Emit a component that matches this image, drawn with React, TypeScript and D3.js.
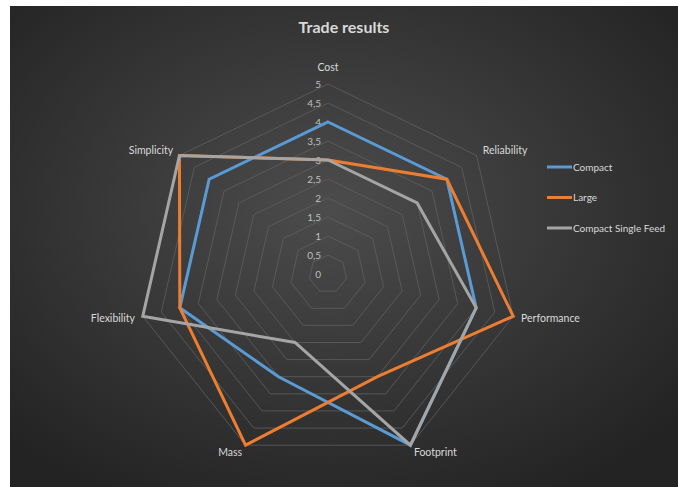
import React, { useEffect, useRef } from 'react';
import * as d3 from 'd3';

const axes = ['Cost', 'Reliability', 'Performance', 'Footprint', 'Mass', 'Flexibility', 'Simplicity'];
const compact = [4, 4, 4, 5, 3, 4, 4];
const large = [3, 4, 5, 3, 5, 4, 5];
const compactSingleFeed = [3, 3, 4, 5, 2, 5, 5];
const ticks = [0, 0.5, 1, 1.5, 2, 2.5, 3, 3.5, 4, 4.5, 5];
const tickLabels = ['0', '0,5', '1', '1,5', '2', '2,5', '3', '3,5', '4', '4,5', '5'];

const series = [
  { name: 'Compact', values: compact, color: '#5b9bd5' },
  { name: 'Large', values: large, color: '#ed7d31' },
  { name: 'Compact Single Feed', values: compactSingleFeed, color: '#a5a5a5' },
];

const App = () => {
  const svgRef = useRef<SVGSVGElement | null>(null);

  useEffect(() => {
    const width = 668;
    const height = 481;
    const svg = d3.select(svgRef.current);
    svg.selectAll('*').remove();

    const font = 'Lato, "Open Sans", sans-serif';

    // background gradient
    const defs = svg.append('defs');
    const grad = defs.append('radialGradient')
      .attr('id', 'bg')
      .attr('cx', '48%').attr('cy', '42%').attr('r', '68%');
    grad.append('stop').attr('offset', '0%').attr('stop-color', '#4c4c4c');
    grad.append('stop').attr('offset', '100%').attr('stop-color', '#232323');
    svg.append('rect').attr('width', width).attr('height', height).attr('fill', 'url(#bg)');

    svg.append('text')
      .attr('x', width / 2)
      .attr('y', 27)
      .attr('text-anchor', 'middle')
      .style('font-family', font)
      .style('font-weight', 'bold')
      .style('font-size', '16px')
      .attr('fill', '#d9d9d9')
      .text('Trade results');

    // center in svg coordinates (svg is at left 10, top 6)
    const cx = 318;
    const cy = 268;
    const R = 190;

    const r = d3.scaleLinear().domain([0, 5]).range([0, R]);
    const angle = d3.scaleLinear().domain([0, axes.length]).range([0, 2 * Math.PI]);

    const g = svg.append('g').attr('transform', `translate(${cx},${cy})`);

    const radial = d3.lineRadial<number>()
      .angle((d, i) => angle(i))
      .radius(d => r(d))
      .curve(d3.curveLinearClosed);

    // grid heptagons
    g.selectAll('.grid')
      .data(ticks.slice(1))
      .join('path')
      .attr('class', 'grid')
      .attr('d', t => radial(axes.map(() => t)))
      .attr('fill', 'none')
      .attr('stroke', '#606060')
      .attr('stroke-width', 0.8);

    // tick labels
    g.selectAll('.tick')
      .data(ticks)
      .join('text')
      .attr('class', 'tick')
      .attr('x', -7)
      .attr('y', t => -r(t))
      .attr('dy', '0.35em')
      .attr('text-anchor', 'end')
      .style('font-family', font)
      .style('font-size', '10px')
      .attr('fill', '#bfbfbf')
      .text((t, i) => tickLabels[i]);

    // series
    series.forEach(s => {
      g.append('path')
        .attr('d', radial(s.values))
        .attr('fill', 'none')
        .attr('stroke', s.color)
        .attr('stroke-width', 3)
        .attr('stroke-linejoin', 'miter');
    });

    // axis labels
    g.selectAll('.axisLabel')
      .data(axes)
      .join('text')
      .attr('class', 'axisLabel')
      .each(function (d, i) {
        const a = angle(i);
        const sx = Math.sin(a);
        const sy = -Math.cos(a);
        const off = 8;
        const x = sx * (R + off);
        let y = sy * (R + off);
        if (sy < -0.95) y -= 9;
        let anchor = 'middle';
        if (sx > 0.1) anchor = 'start';
        else if (sx < -0.1) anchor = 'end';
        d3.select(this)
          .attr('x', x)
          .attr('y', y)
          .attr('dy', '0.35em')
          .attr('text-anchor', anchor);
      })
      .style('font-family', font)
      .style('font-size', '10.5px')
      .attr('fill', '#d9d9d9')
      .text(d => d);

    // legend
    const legend = svg.append('g').attr('transform', 'translate(537,161)');
    const ly = d3.scalePoint<string>()
      .domain(series.map(s => s.name))
      .range([0, 61]);
    series.forEach(s => {
      const row = legend.append('g').attr('transform', `translate(0,${ly(s.name)})`);
      row.append('line')
        .attr('x1', 0).attr('x2', 25)
        .attr('y1', 0).attr('y2', 0)
        .attr('stroke', s.color)
        .attr('stroke-width', 3);
      row.append('text')
        .attr('x', 26)
        .attr('y', 0)
        .attr('dy', '0.35em')
        .style('font-family', font)
        .style('font-size', '10px')
        .attr('fill', '#d9d9d9')
        .text(s.name);
    });
  }, []);

  return (
    <svg
      ref={svgRef}
      width={668}
      height={481}
      style={{ position: 'absolute', left: 10, top: 6, display: 'block' }}
    />
  );
};

export default App;
